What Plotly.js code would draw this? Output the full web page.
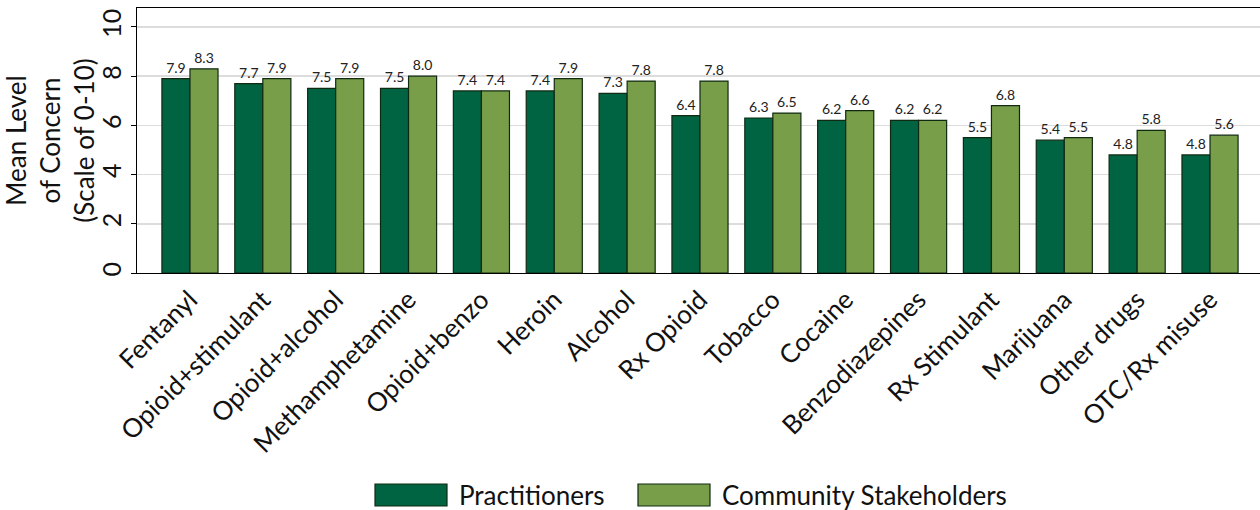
<!DOCTYPE html>
<html>
<head>
<meta charset="utf-8">
<script src="https://cdn.plot.ly/plotly-3.0.1.min.js"></script>
<style>html,body{margin:0;padding:0;background:#fff;}#chart{width:1260px;height:510px;}</style>
</head>
<body>
<div id="chart"></div>
<script>
const categories = ["Fentanyl","Opioid+stimulant","Opioid+alcohol","Methamphetamine","Opioid+benzo","Heroin","Alcohol","Rx Opioid","Tobacco","Cocaine","Benzodiazepines","Rx Stimulant","Marijuana","Other drugs","OTC/Rx misuse"];
const practitioners = [7.9,7.7,7.5,7.5,7.4,7.4,7.3,6.4,6.3,6.2,6.2,5.5,5.4,4.8,4.8];
const community = [8.3,7.9,7.9,8.0,7.4,7.9,7.8,7.8,6.5,6.6,6.2,6.8,5.5,5.8,5.6];
const seriesNames = ["Practitioners","Community Stakeholders"];
const colors = ["#006341","#789E4A"];
const yTicks = [0,2,4,6,8,10];

const FONT = "Lato, 'Open Sans', sans-serif";

const traces = [practitioners, community].map((vals, i) => ({
  type: "bar",
  x: categories,
  y: vals,
  name: seriesNames[i],
  marker: {color: colors[i], line: {color: "#102a12", width: 1.2}},
  text: vals.map(v => v.toFixed(1)),
  textposition: "outside",
  textfont: {family: FONT, size: 14, color: "#222"},
  cliponaxis: false,
  showlegend: false
}));

// custom legend (large swatches as in reference)
const legendShapes = [];
const legendAnns = [];
const legX = [375, 638];
seriesNames.forEach((n, i) => {
  legendShapes.push({type: "rect", xref: "paper", yref: "paper",
    x0: (legX[i] - 137) / 1123, x1: (legX[i] + 72 - 137) / 1123,
    y0: -(484 - 273) / 265, y1: -(506 - 273) / 265,
    fillcolor: colors[i], line: {color: "#102a12", width: 1.2}});
  legendAnns.push({xref: "paper", yref: "paper",
    x: (legX[i] + 82 - 137) / 1123, y: -(495 - 273) / 265,
    xanchor: "left", yanchor: "middle", showarrow: false, text: n,
    font: {family: FONT, size: 26, color: "#111"}});
});

const layout = {
  width: 1260, height: 510,
  margin: {l: 137, r: 0, t: 8, b: 237},
  paper_bgcolor: "#fff", plot_bgcolor: "#fff",
  barmode: "group", bargap: 0.23, bargroupgap: 0,
  showlegend: false,
  font: {family: FONT, color: "#111"},
  xaxis: {
    type: "category",
    range: [-0.727, 14.686],
    tickangle: -45,
    tickfont: {family: FONT, size: 26, color: "#111"},
    showline: true, linecolor: "#000", linewidth: 1.2, mirror: true,
    ticks: "", showgrid: false, automargin: false
  },
  yaxis: {
    range: [0, 10.77],
    tickvals: yTicks,
    ticktext: yTicks.map(String),
    tickangle: -90,
    tickfont: {family: FONT, size: 25, color: "#111"},
    ticks: "outside", ticklen: 5, tickcolor: "#000",
    showline: true, linecolor: "#000", linewidth: 1.2,
    showgrid: true, gridcolor: "#dcdcdc", gridwidth: 1.5,
    zeroline: false, automargin: false,
    title: {text: "Mean Level<br>of Concern<br>(Scale of 0-10)", standoff: 6,
      font: {family: FONT, size: 26, color: "#111"}}
  },
  shapes: legendShapes,
  annotations: legendAnns
};

Plotly.newPlot("chart", traces, layout, {displayModeBar: false, staticPlot: true});
</script>
</body>
</html>
